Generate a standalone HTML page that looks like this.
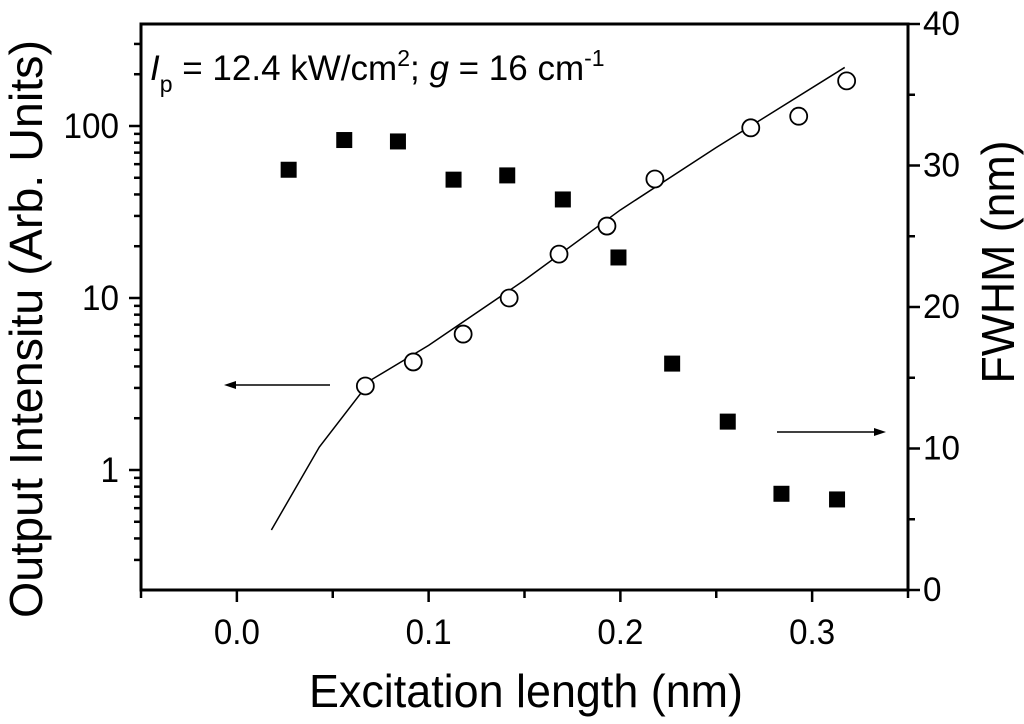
<!DOCTYPE html>
<html><head><meta charset="utf-8"><style>
body{margin:0;background:#fff}
svg text{font-family:"Liberation Sans",sans-serif;fill:#000}
</style></head><body>
<svg id="chart" width="1024" height="719" viewBox="0 0 1024 719">
<g id="axes"></g><g id="marks"></g>
<text x="150" y="80" font-size="35"><tspan font-style="italic">I</tspan><tspan font-size="23" dy="12">p</tspan><tspan dy="-12"> = 12.4 kW/cm</tspan><tspan font-size="23" dy="-14">2</tspan><tspan dy="14">; </tspan><tspan font-style="italic">g</tspan><tspan> = 16 cm</tspan><tspan font-size="23" dy="-14">-1</tspan></text>
<text x="526" y="707" font-size="46" text-anchor="middle" textLength="434" lengthAdjust="spacingAndGlyphs">Excitation length (nm)</text>
<text transform="translate(42,329) rotate(-90)" font-size="46" text-anchor="middle" textLength="578" lengthAdjust="spacingAndGlyphs">Output Intensitu (Arb. Units)</text>
<text transform="translate(1014,262) rotate(-90)" font-size="46" text-anchor="middle" textLength="243" lengthAdjust="spacingAndGlyphs">FWHM (nm)</text>
</svg>
<script>
const xTicks=[0.0,0.1,0.2,0.3];
const xTickLabels=["0.0","0.1","0.2","0.3"];
const leftTicks=[1,10,100];
const leftTickLabels=["1","10","100"];
const rightTicks=[0,10,20,30,40];
const rightTickLabels=["0","10","20","30","40"];
const fwhmX=[0.027,0.056,0.084,0.113,0.141,0.170,0.199,0.227,0.256,0.284,0.313];
const fwhmY=[29.7,31.8,31.7,29.0,29.3,27.6,23.5,16.0,11.9,6.8,6.4];
const intX=[0.067,0.092,0.118,0.142,0.168,0.193,0.218,0.268,0.293,0.318];
const intY=[3.08,4.25,6.17,10,18.0,26.2,49.2,97.6,114,183];
const fitX=[0.018,0.043,0.070,0.100,0.150,0.200,0.250,0.317];
const fitY=[0.448,1.36,3.34,5.3,12.7,32.5,75,219];

const L=141,R=908,T=24,B=590;
const sx=v=>L+(v+0.05)/0.4*(R-L);
const sl=v=>470-Math.log10(v)*172;
const sr=v=>B-v*(B-T)/40;
const NS="http://www.w3.org/2000/svg";
const tl=s=>{let d=0,p=0;for(const c of s){if(c=='.')p++;else d++;}return 18.5*d+9*p;};
function mk(tag,attrs,parent,txt){const e=document.createElementNS(NS,tag);for(const k in attrs)e.setAttribute(k,attrs[k]);if(txt!==undefined)e.textContent=txt;parent.appendChild(e);return e;}
const ax=document.getElementById('axes'),mg=document.getElementById('marks');
let f=mk('rect',{x:L,y:T,width:R-L,height:B-T,fill:'none',stroke:'#000','stroke-width':3},ax);


for(let v=-0.05;v<=0.351;v+=0.05){const x=sx(v);const major=xTicks.some(t=>Math.abs(t-v)<1e-6);
 let t=mk('line',{x1:x,x2:x,y1:B,y2:B+(major?12:8),stroke:'#000','stroke-width':2.5},ax);
 
 }
xTicks.forEach((v,i)=>{let t=mk('text',{x:sx(v),y:B+54,'font-size':35,'text-anchor':'middle',textLength:tl(xTickLabels[i]),lengthAdjust:'spacingAndGlyphs'},ax,xTickLabels[i]);
 
 });
for(let d=0.1;d<=100;d*=10){for(let m=1;m<10;m++){const v=d*m;const y=sl(v);if(y<T||y>B)continue;
 let t=mk('line',{x1:L,x2:L-(m==1?12:7),y1:y,y2:y,stroke:'#000','stroke-width':2.5},ax);
 
 }}
leftTicks.forEach((v,i)=>{let t=mk('text',{x:L-22,y:sl(v)+12,'font-size':35,'text-anchor':'end',textLength:tl(leftTickLabels[i]),lengthAdjust:'spacingAndGlyphs'},ax,leftTickLabels[i]);
 
 });
for(let v=0;v<=40;v+=5){const y=sr(v);
 let t=mk('line',{x1:R,x2:R+(v%10==0?12:7),y1:y,y2:y,stroke:'#000','stroke-width':2.5},ax);
 
 }
rightTicks.forEach((v,i)=>{let t=mk('text',{x:R+15,y:sr(v)+11,'font-size':34,textLength:tl(rightTickLabels[i]),lengthAdjust:'spacingAndGlyphs'},ax,rightTickLabels[i]);
 
 });
let fit=mk('polyline',{points:fitX.map((x,i)=>sx(x)+','+sl(fitY[i])).join(' '),fill:'none',stroke:'#000','stroke-width':1.5},mg);


fwhmX.forEach((x,i)=>{let r=mk('rect',{x:sx(x)-8,y:sr(fwhmY[i])-8,width:16,height:16,fill:'#000'},mg);
 
 });
intX.forEach((x,i)=>{let c=mk('circle',{cx:sx(x),cy:sl(intY[i]),r:8.5,fill:'#fff',stroke:'#000','stroke-width':1.8},mg);
 
 });
let a1=mk('g',{},mg);


mk('line',{x1:330,x2:232,y1:385,y2:385,stroke:'#000','stroke-width':1.5},a1);
mk('polygon',{points:'224,385 236,381 236,389',fill:'#000'},a1);
let a2=mk('g',{},mg);


mk('line',{x1:777,x2:877,y1:432,y2:432,stroke:'#000','stroke-width':1.5},a2);
mk('polygon',{points:'886,432 874,428 874,436',fill:'#000'},a2);
</script>
</body></html>
